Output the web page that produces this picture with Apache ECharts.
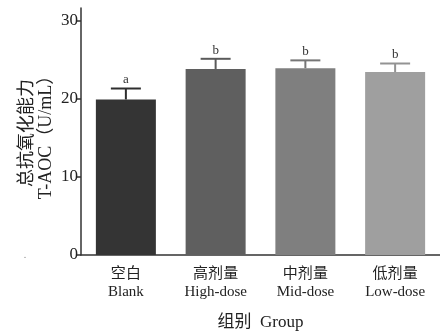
<!DOCTYPE html>
<html><head><meta charset="utf-8">
<script src="https://cdn.jsdelivr.net/npm/echarts@6/dist/echarts.min.js"></script>
<style>html,body{margin:0;padding:0;background:#fff}#c{width:440px;height:336px}</style>
</head><body><div id="c"></div>
<script>
const categories = ['空白\nBlank', '高剂量\nHigh-dose', '中剂量\nMid-dose', '低剂量\nLow-dose'];
const means = [19.9, 23.8, 23.9, 23.4];
const errors = [1.4, 1.3, 1.0, 1.1];
const letters = ['a', 'b', 'b', 'b'];
const barColors = ['#343434', '#5f5f5f', '#7f7f7f', '#9f9f9f'];
const errColors = ['#2e2e2e', '#5a5a5a', '#767676', '#939393'];

const FONT = '"Liberation Serif", "Noto Sans CJK SC", serif';
const chart = echarts.init(document.getElementById('c'));
chart.setOption({
  animation: false,
  grid: { left: 81, top: 8, width: 361, bottom: 75, containLabel: false },
  xAxis: {
    type: 'category', data: categories,
    axisLine: { lineStyle: { color: '#333', width: 1.5 } },
    axisTick: { alignWithLabel: true, length: 5, lineStyle: { color: '#333', width: 1.5 } },
    axisLabel: { color: '#222', fontFamily: FONT, fontSize: 15, lineHeight: 18, margin: 10 },
    name: '组别  Group', nameLocation: 'middle', nameGap: 59,
    nameTextStyle: { color: '#222', fontFamily: FONT, fontSize: 17 }
  },
  yAxis: {
    type: 'value', min: 0, max: 31.6, interval: 10,
    splitLine: { show: false },
    axisLine: { show: true, lineStyle: { color: '#333', width: 1.5 } },
    axisTick: { show: true, length: 5, lineStyle: { color: '#333', width: 1.5 } },
    axisLabel: { color: '#222', fontFamily: FONT, fontSize: 17, margin: 3, showMaxLabel: false }
  },
  graphic: [
    { type: 'text', x: 37, y: 133, rotation: Math.PI / 2,
      style: { text: '总抗氧化能力\nT-AOC（U/mL）', align: 'center', verticalAlign: 'middle',
        lineHeight: 19, fill: '#222', font: '18px ' + FONT } },
    { type: 'text', x: 25, y: 260, style: { text: '.', fill: '#888', font: '10px ' + FONT, align: 'center', verticalAlign: 'bottom' } }
  ],
  series: [
    {
      type: 'bar', barWidth: 60,
      data: means.map((v, i) => ({ value: v, itemStyle: { color: barColors[i] } }))
    },
    {
      type: 'custom', z: 3,
      renderItem: function (params, api) {
        const i = api.value(0);
        const m = api.value(1), e = api.value(2);
        const top = api.coord([i, m + e]);
        const base = api.coord([i, m]);
        const c = errColors[i];
        const hw = 15;
        return {
          type: 'group',
          children: [
            { type: 'line', shape: { x1: top[0], y1: base[1], x2: top[0], y2: top[1] }, style: { stroke: c, lineWidth: 2 } },
            { type: 'line', shape: { x1: top[0] - hw, y1: top[1], x2: top[0] + hw, y2: top[1] }, style: { stroke: c, lineWidth: 2 } },
            { type: 'text', x: top[0], y: top[1] - 2, style: { text: letters[i], align: 'center', verticalAlign: 'bottom', fill: '#333', font: '13px ' + FONT } }
          ]
        };
      },
      data: means.map((v, i) => [i, v, errors[i]])
    }
  ]
});
</script></body></html>
